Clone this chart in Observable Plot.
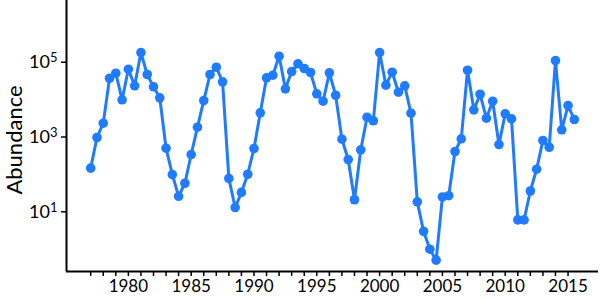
<!DOCTYPE html>
<html>
<head>
<meta charset="utf-8">
<script src="https://cdn.jsdelivr.net/npm/d3@7"></script>
<script src="https://cdn.jsdelivr.net/npm/@observablehq/plot@0.6"></script>
<style>
  body { margin: 0; background: #fff; }
  svg { font-family: Lato, "DejaVu Sans", sans-serif; }
</style>
</head>
<body>
<div id="chart"></div>
<script>
const years = [1977, 1977.5, 1978, 1978.5, 1979, 1979.5, 1980, 1980.5, 1981, 1981.5,
  1982, 1982.5, 1983, 1983.5, 1984, 1984.5, 1985, 1985.5, 1986, 1986.5,
  1987, 1987.5, 1988, 1988.5, 1989, 1989.5, 1990, 1990.5, 1991, 1991.5,
  1992, 1992.5, 1993, 1993.5, 1994, 1994.5, 1995, 1995.5, 1996, 1996.5,
  1997, 1997.5, 1998, 1998.5, 1999, 1999.5, 2000, 2000.5, 2001, 2001.5,
  2002, 2002.5, 2003, 2003.5, 2004, 2004.5, 2005, 2005.5, 2006, 2006.5,
  2007, 2007.5, 2008, 2008.5, 2009, 2009.5, 2010, 2010.5, 2011, 2011.5,
  2012, 2012.5, 2013, 2013.5, 2014, 2014.5, 2015, 2015.5];
const abundance = [147, 970, 2340, 37300, 50800, 9900, 65000, 23400, 181000, 46900,
  22000, 11200, 502, 99, 26, 58, 340, 1830, 9400, 46900,
  73500, 29900, 78, 13, 33, 101, 493, 4440, 38300, 44900,
  145000, 19400, 56400, 90600, 67900, 53100, 14300, 9060, 52100, 13100,
  873, 250, 21, 455, 3380, 2710, 181000, 24300, 54100, 15800,
  23400, 4330, 18.5, 3.0, 1.0, 0.51, 25, 27, 409, 895,
  61100, 5330, 13900, 3180, 9060, 630, 4170, 3070, 6.1, 6.1,
  36, 138, 806, 533, 111000, 1560, 6950, 2940];
const xTicks = [1977, 1978, 1979, 1980, 1981, 1982, 1983, 1984, 1985, 1986, 1987, 1988,
  1989, 1990, 1991, 1992, 1993, 1994, 1995, 1996, 1997, 1998, 1999, 2000, 2001,
  2002, 2003, 2004, 2005, 2006, 2007, 2008, 2009, 2010, 2011, 2012, 2013, 2014, 2015];
const xLabels = [1980, 1985, 1990, 1995, 2000, 2005, 2010, 2015];
const yTicks = [10, 1000, 100000];

const data = years.map((y, i) => ({year: y, value: abundance[i]}));
const xDomain = [1975.075, 2017.425];
const yDomain = [0.2535, 4.47e6];
const blue = "#1f7bff";

const chart = Plot.plot({
  width: 600,
  height: 300,
  marginLeft: 66,
  marginRight: 2,
  marginTop: 0,
  marginBottom: 29,
  style: {fontFamily: "Lato, sans-serif", fontSize: "17px", color: "#000", background: "#fff"},
  x: {domain: xDomain},
  y: {type: "log", domain: yDomain},
  marks: [
    Plot.axisX({ticks: xTicks, tickFormat: d => xLabels.includes(d) ? String(d) : "", tickSize: 5, tickPadding: 3, label: null, fontSize: 17, strokeWidth: 1.5}),
    Plot.axisY({ticks: yTicks, tickFormat: d => "10^" + Math.round(Math.log10(d)), tickSize: 5, tickPadding: 4, label: null, fontSize: 18, strokeWidth: 1.5}),
    Plot.ruleX([xDomain[0]], {stroke: "#000", strokeWidth: 2}),
    Plot.ruleY([yDomain[0]], {stroke: "#000", strokeWidth: 2}),
    Plot.line(data, {x: "year", y: "value", stroke: blue, strokeWidth: 3}),
    Plot.dot(data, {x: "year", y: "value", fill: blue, r: 4.8})
  ]
});

// superscript exponents on y tick labels
d3.select(chart).selectAll("text").each(function() {
  const t = this.textContent;
  const m = /^10\^(-?\d+)$/.exec(t);
  if (m) {
    const sel = d3.select(this);
    sel.text("10");
    sel.append("tspan").attr("dy", "-0.45em").attr("font-size", "0.72em").text(m[1]);
  }
});

// y-axis title
const svg = d3.select(chart);
svg.append("text")
  .attr("transform", "translate(13,140) rotate(-90)")
  .attr("text-anchor", "middle")
  .attr("dominant-baseline", "central")
  .attr("font-family", "Lato, sans-serif")
  .attr("font-size", 22)
  .attr("fill", "#000")
  .text("Abundance");

document.getElementById("chart").appendChild(chart);
</script>
</body>
</html>
